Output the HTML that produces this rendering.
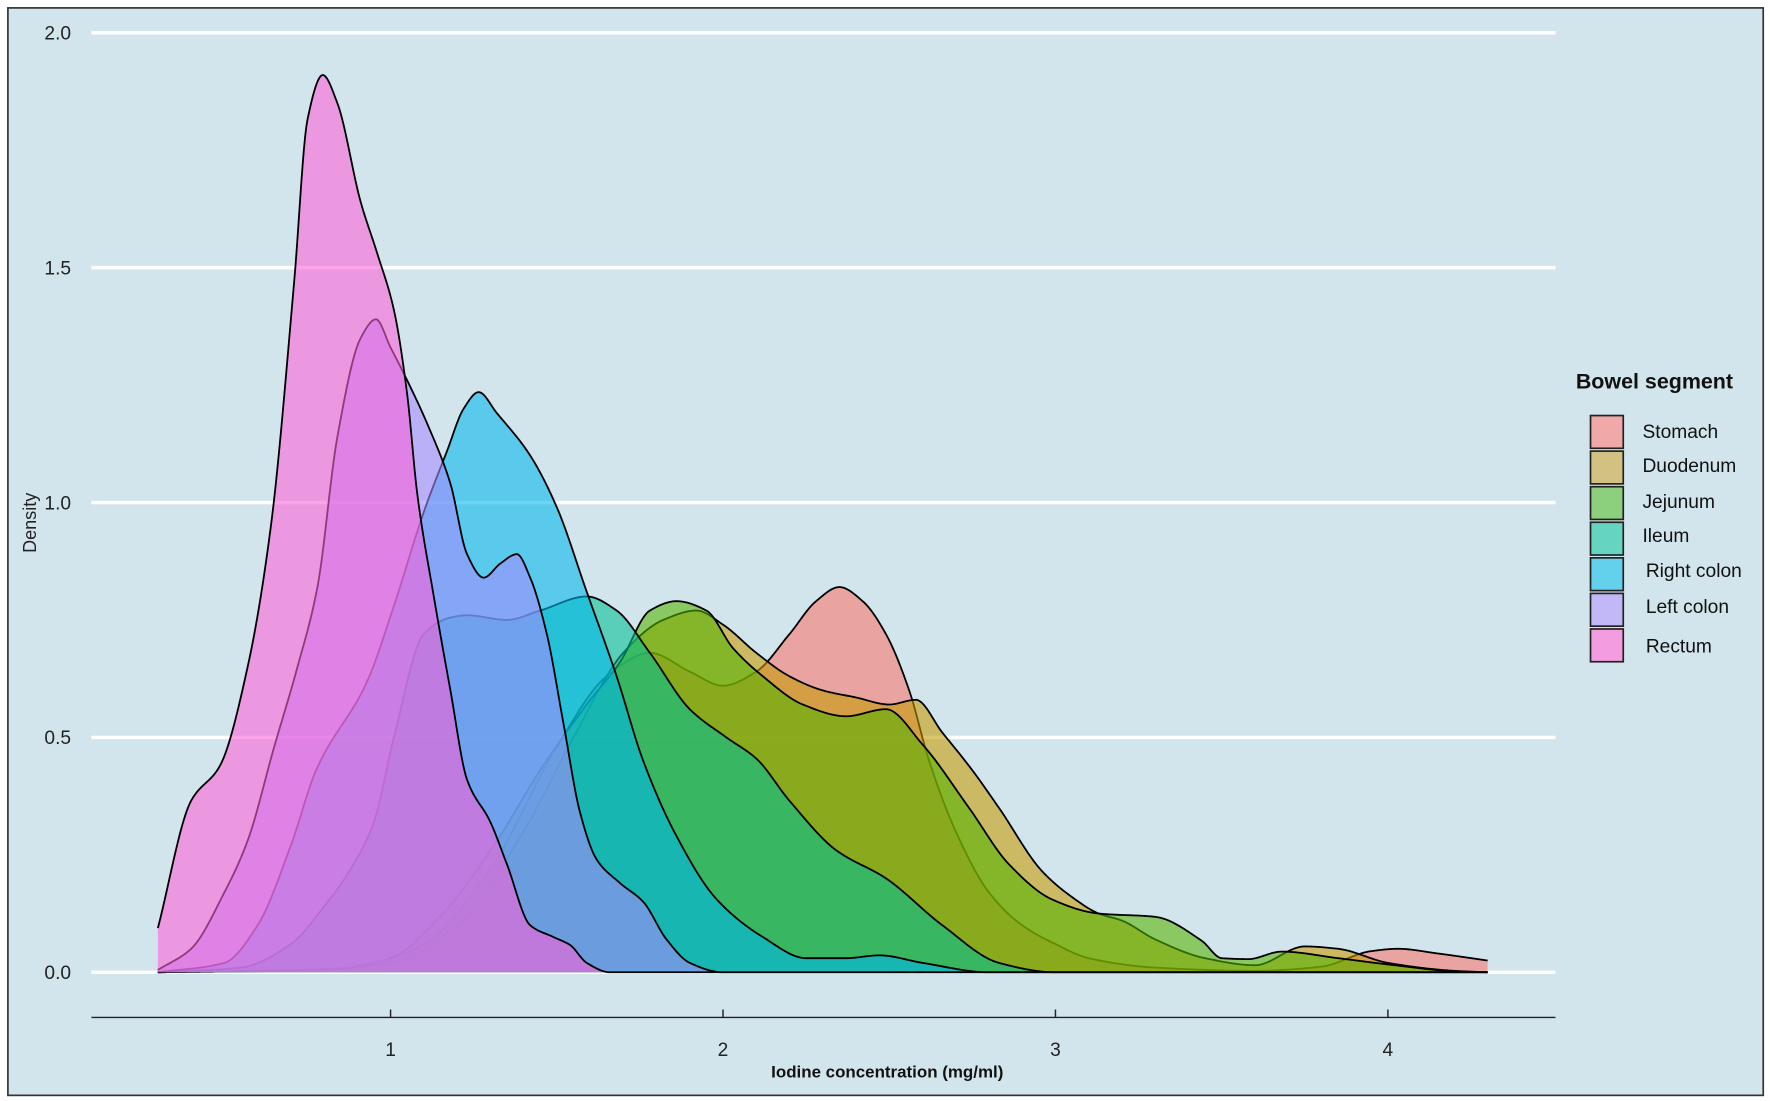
<!DOCTYPE html>
<html><head><meta charset="utf-8"><style>
html,body{margin:0;padding:0;background:#fff;}
svg{display:block;}
text{font-family:"Liberation Sans",sans-serif;}
</style></head><body>
<svg id="s" width="1770" height="1101" viewBox="0 0 1568 975" preserveAspectRatio="none" xmlns="http://www.w3.org/2000/svg">
<rect x="0" y="0" width="1568" height="975" fill="#ffffff"/>
<rect x="7" y="7" width="1555" height="963" fill="#d3e5ec" stroke="#333" stroke-width="1.5"/>
<g stroke="#ffffff" stroke-width="3">
<line x1="81" y1="29" x2="1378" y2="29"/>
<line x1="81" y1="237" x2="1378" y2="237"/>
<line x1="81" y1="445" x2="1378" y2="445"/>
<line x1="81" y1="653" x2="1378" y2="653"/>
<line x1="81" y1="861" x2="1378" y2="861"/>
</g>
<g id="curves"></g>
<line x1="81" y1="901" x2="1378" y2="901" stroke="#222" stroke-width="1.3"/>
<g stroke="#222" stroke-width="1.3">
<line x1="346" y1="901" x2="346" y2="894"/>
<line x1="640.5" y1="901" x2="640.5" y2="894"/>
<line x1="935" y1="901" x2="935" y2="894"/>
<line x1="1229.5" y1="901" x2="1229.5" y2="894"/>
</g>
<g font-size="17" fill="#222" text-anchor="end">
<text x="63" y="35">2.0</text>
<text x="63" y="243">1.5</text>
<text x="63" y="451">1.0</text>
<text x="63" y="659">0.5</text>
<text x="63" y="867">0.0</text>
</g>
<g font-size="17" fill="#222" text-anchor="middle">
<text x="346" y="935">1</text>
<text x="640.5" y="935">2</text>
<text x="935" y="935">3</text>
<text x="1229.5" y="935">4</text>
</g>
<text x="786" y="954" font-size="15" font-weight="bold" text-anchor="middle" fill="#111">Iodine concentration (mg/ml)</text>
<text x="0" y="0" font-size="16" fill="#222" text-anchor="middle" transform="translate(32,463) rotate(-90)">Density</text>
<text x="1396" y="344" font-size="19" font-weight="bold" fill="#111">Bowel segment</text>
<g stroke="#222" stroke-width="1.5">
<rect x="1409" y="368" width="29" height="29" fill="#f0a9a8"/>
<rect x="1409" y="399.5" width="29" height="29" fill="#d3c181"/>
<rect x="1409" y="431" width="29" height="29" fill="#8ccf7d"/>
<rect x="1409" y="462.5" width="29" height="29" fill="#65d5c1"/>
<rect x="1409" y="494" width="29" height="29" fill="#63d0ec"/>
<rect x="1409" y="525.5" width="29" height="29" fill="#c2b8f7"/>
<rect x="1409" y="557" width="29" height="29" fill="#f39de0"/>
</g>
<g font-size="17" fill="#111">
<text x="1455" y="388">Stomach</text>
<text x="1455" y="418">Duodenum</text>
<text x="1455" y="450">Jejunum</text>
<text x="1455" y="480">Ileum</text>
<text x="1458" y="511">Right colon</text>
<text x="1458" y="543">Left colon</text>
<text x="1458" y="578">Rectum</text>
</g>
</svg>
<script>
function X(v){return 346+(v-1)*294.5;}
function Y(d){return 861-416*d;}
var V0=0.30,V1=4.3;
var series=[
["#F8766D",[[V0,0],[0.9,0.01],[1.1,0.06],[1.3,0.22],[1.5,0.48],[1.65,0.63],[1.78,0.68],[1.9,0.64],[2.0,0.61],[2.1,0.64],[2.2,0.72],[2.28,0.79],[2.35,0.82],[2.42,0.79],[2.49,0.72],[2.56,0.6],[2.62,0.45],[2.7,0.3],[2.8,0.17],[2.9,0.1],[3.0,0.06],[3.1,0.03],[3.3,0.01],[3.6,0.003],[3.8,0.012],[3.95,0.045],[4.03,0.05],[4.15,0.04],[4.3,0.025]]],
["#C49A00",[[V0,0],[0.8,0.005],[1.0,0.02],[1.2,0.1],[1.4,0.3],[1.55,0.5],[1.7,0.68],[1.82,0.75],[1.92,0.77],[2.0,0.74],[2.1,0.68],[2.2,0.63],[2.3,0.6],[2.4,0.585],[2.5,0.57],[2.58,0.58],[2.66,0.51],[2.75,0.43],[2.83,0.35],[2.96,0.215],[3.05,0.16],[3.13,0.125],[3.2,0.11],[3.3,0.07],[3.45,0.03],[3.6,0.015],[3.75,0.055],[3.85,0.05],[4.0,0.02],[4.2,0.003],[4.3,0]]],
["#53B400",[[V0,0],[0.8,0.005],[1.0,0.03],[1.15,0.12],[1.32,0.28],[1.45,0.43],[1.59,0.57],[1.69,0.66],[1.78,0.77],[1.86,0.79],[1.95,0.77],[2.03,0.69],[2.12,0.63],[2.24,0.57],[2.37,0.545],[2.49,0.56],[2.6,0.485],[2.74,0.35],[2.86,0.23],[2.99,0.155],[3.13,0.125],[3.3,0.118],[3.44,0.067],[3.5,0.03],[3.58,0.028],[3.68,0.044],[3.85,0.03],[4.02,0.015],[4.2,0.002],[4.3,0]]],
["#00C094",[[V0,0],[0.55,0.01],[0.7,0.06],[0.8,0.14],[0.88,0.22],[0.95,0.32],[1.01,0.5],[1.1,0.72],[1.18,0.755],[1.23,0.76],[1.35,0.75],[1.45,0.77],[1.59,0.8],[1.68,0.77],[1.78,0.68],[1.9,0.56],[2.01,0.5],[2.1,0.455],[2.2,0.365],[2.34,0.26],[2.49,0.2],[2.66,0.1],[2.83,0.02],[3.0,0],[4.3,0]]],
["#00B6EB",[[V0,0],[0.5,0.02],[0.6,0.1],[0.7,0.27],[0.776,0.43],[0.93,0.62],[1.01,0.78],[1.1,0.98],[1.17,1.11],[1.22,1.2],[1.265,1.235],[1.32,1.19],[1.42,1.1],[1.5,0.99],[1.59,0.81],[1.68,0.63],[1.76,0.45],[1.86,0.29],[1.98,0.156],[2.12,0.075],[2.25,0.03],[2.37,0.03],[2.47,0.036],[2.6,0.02],[2.8,0],[4.3,0]]],
["#A58AFF",[[V0,0.005],[0.4,0.05],[0.5,0.17],[0.57,0.28],[0.65,0.48],[0.72,0.65],[0.78,0.82],[0.84,1.14],[0.91,1.35],[0.956,1.39],[1.0,1.33],[1.05,1.26],[1.115,1.16],[1.18,1.04],[1.23,0.89],[1.28,0.84],[1.33,0.87],[1.38,0.89],[1.42,0.84],[1.47,0.72],[1.52,0.53],[1.57,0.34],[1.62,0.24],[1.69,0.19],[1.76,0.15],[1.83,0.07],[1.9,0.02],[2.0,0],[4.3,0]]],
["#FB61D7",[[V0,0.094],[0.4,0.365],[0.487,0.44],[0.57,0.65],[0.64,0.95],[0.71,1.47],[0.75,1.815],[0.796,1.91],[0.84,1.85],[0.91,1.64],[0.96,1.53],[1.01,1.41],[1.05,1.23],[1.08,1.02],[1.13,0.8],[1.18,0.6],[1.23,0.41],[1.3,0.32],[1.35,0.23],[1.42,0.1],[1.49,0.075],[1.54,0.058],[1.59,0.02],[1.66,0],[4.3,0]]]
];
function interp(pts){
 var n=pts.length,x=pts.map(function(p){return p[0];}),y=pts.map(function(p){return p[1];});
 var dl=[],m=[];
 for(var i=0;i<n-1;i++)dl.push((y[i+1]-y[i])/(x[i+1]-x[i]));
 m[0]=dl[0];m[n-1]=dl[n-2];
 for(i=1;i<n-1;i++){
  if(dl[i-1]*dl[i]<=0)m[i]=0;
  else{var w1=2*(x[i+1]-x[i])+(x[i]-x[i-1]),w2=(x[i+1]-x[i])+2*(x[i]-x[i-1]);m[i]=(w1+w2)/(w1/dl[i-1]+w2/dl[i]);}
 }
 var out=[];
 for(i=0;i<n-1;i++){
  var h=x[i+1]-x[i],steps=Math.max(2,Math.ceil(h/0.004));
  for(var k=0;k<steps;k++){
   var t=k/steps,t2=t*t,t3=t2*t;
   var v=(2*t3-3*t2+1)*y[i]+(t3-2*t2+t)*h*m[i]+(-2*t3+3*t2)*y[i+1]+(t3-t2)*h*m[i+1];
   if(v<0)v=0;
   out.push([X(x[i]+t*h),Y(v)]);
  }
 }
 out.push([X(x[n-1]),Y(y[n-1])]);
 return out;
}
var g=document.getElementById("curves"),ns="http://www.w3.org/2000/svg";
series.forEach(function(s){
 var P=interp(s[1]);
 var d="M"+P.map(function(p){return p[0].toFixed(2)+","+p[1].toFixed(2);}).join(" L");
 var f=document.createElementNS(ns,"path");
 f.setAttribute("d",d+" L"+P[P.length-1][0].toFixed(2)+",861 L"+P[0][0].toFixed(2)+",861 Z");
 f.setAttribute("fill",s[0]);f.setAttribute("fill-opacity","0.58");f.setAttribute("stroke","none");
 g.appendChild(f);
 var l=document.createElementNS(ns,"path");
 l.setAttribute("d",d);l.setAttribute("fill","none");l.setAttribute("stroke","#000");l.setAttribute("stroke-width","1.6");l.setAttribute("stroke-linejoin","round");
 g.appendChild(l);
});
</script>
</body></html>
